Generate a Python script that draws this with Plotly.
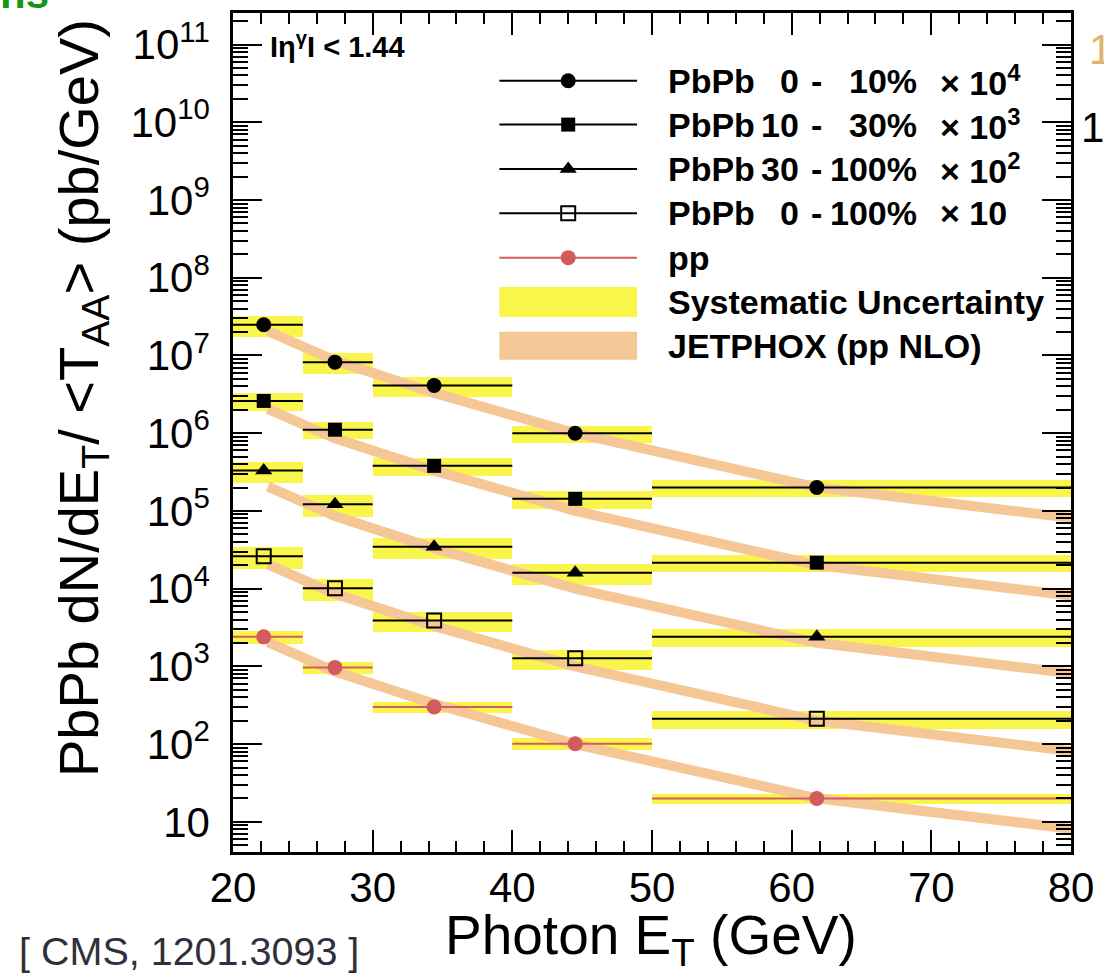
import plotly.graph_objects as go

# ---------------- data ----------------
bin_lo = [20, 25, 30, 40, 50]
bin_hi = [25, 30, 40, 50, 80]
x_mean = [22.2, 27.3, 34.4, 44.5, 61.8]

c010_vals = [2.48e7, 8.2e6, 4.1e6, 1.0e6, 2.0e5]      # PbPb 0-10% x 1e4
c1030_vals = [2.6e6, 1.11e6, 3.8e5, 1.43e5, 2.16e4]   # PbPb 10-30% x 1e3
c30100_vals = [3.3e5, 1.22e5, 3.45e4, 1.6e4, 2.4e3]   # PbPb 30-100% x 1e2
c0100_vals = [2.62e4, 1.01e4, 3.9e3, 1.27e3, 2.12e2]  # PbPb 0-100% x 10
pp_vals = [2.4e3, 9.7e2, 3.0e2, 1.01e2, 20.0]         # pp

c010_sys = [0.31, 0.30, 0.29, 0.25, 0.25]
c1030_sys = [0.26, 0.25, 0.25, 0.25, 0.245]
c30100_sys = [0.31, 0.31, 0.30, 0.30, 0.25]
c0100_sys = [0.31, 0.31, 0.30, 0.29, 0.26]
pp_sys = [0.18, 0.18, 0.17, 0.17, 0.155]

jet_x = [22.5, 27.3, 34.4, 44.5, 61.8, 80.0]
jet_pp = [2050, 860, 330, 100, 20.1, 8.15]            # JETPHOX pp NLO
scale_factors = [1e4, 1e3, 1e2, 10, 1]

x_tickvals = [20, 30, 40, 50, 60, 70, 80]
x_ticktext = ["20", "30", "40", "50", "60", "70", "80"]
y_tickvals = [1e1, 1e2, 1e3, 1e4, 1e5, 1e6, 1e7, 1e8, 1e9, 1e10, 1e11]
y_ticktext = ["10", "10<sup>2</sup>", "10<sup>3</sup>", "10<sup>4</sup>", "10<sup>5</sup>",
              "10<sup>6</sup>", "10<sup>7</sup>", "10<sup>8</sup>", "10<sup>9</sup>",
              "10<sup>10</sup>", "10<sup>11</sup>"]

# ---------------- style ----------------
FONT = "Liberation Sans, Arial, Helvetica, sans-serif"
YELLOW = "#FAF54B"
ORANGE = "#F6C796"
PPRED = "#D35B5E"

series = [
    (c010_vals, c010_sys, dict(symbol="circle", size=15, color="black"), "black"),
    (c1030_vals, c1030_sys, dict(symbol="square", size=14, color="black"), "black"),
    (c30100_vals, c30100_sys, dict(symbol="triangle-up", size=15, color="black"), "black"),
    (c0100_vals, c0100_sys, dict(symbol="square-open", size=14, color="black",
                                 line=dict(width=2, color="black")), "black"),
    (pp_vals, pp_sys, dict(symbol="circle", size=15, color=PPRED), PPRED),
]

fig = go.Figure()

centers = [(a + b) / 2 for a, b in zip(bin_lo, bin_hi)]
widths = [b - a for a, b in zip(bin_lo, bin_hi)]

# systematic boxes
for vals, sys, _, _ in series:
    lo = [v * (1 - s) for v, s in zip(vals, sys)]
    hgt = [v * 2 * s for v, s in zip(vals, sys)]
    fig.add_trace(go.Bar(x=centers, width=widths, base=lo, y=hgt,
                         marker=dict(color=YELLOW, line=dict(width=0)),
                         showlegend=False, hoverinfo="skip"))

# JETPHOX curves
for sf in scale_factors:
    fig.add_trace(go.Scatter(x=jet_x, y=[v * sf for v in jet_pp], mode="lines",
                             line=dict(color=ORANGE, width=10),
                             showlegend=False, hoverinfo="skip"))

# data points with bin-width bars
for vals, sys, mk, lc in series:
    fig.add_trace(go.Scatter(
        x=x_mean, y=vals, mode="markers", marker=mk,
        error_x=dict(type="data", symmetric=False,
                     array=[h - x for h, x in zip(bin_hi, x_mean)],
                     arrayminus=[x - l for l, x in zip(bin_lo, x_mean)],
                     thickness=2, width=0, color=lc),
        showlegend=False))

# ---------------- manual legend (pixel-space overlay axes) ----------------
leg_rows = [78, 122, 166.5, 211, 255.5]
leg_x0, leg_x1, leg_xm = 500, 638, 569
for (vals, sys, mk, lc), ry in zip(series, leg_rows):
    fig.add_trace(go.Scatter(x=[leg_x0, leg_x1], y=[ry, ry], mode="lines",
                             line=dict(color=lc, width=2), xaxis="x2", yaxis="y2",
                             showlegend=False, hoverinfo="skip"))
    fig.add_trace(go.Scatter(x=[leg_xm], y=[ry], mode="markers", marker=mk,
                             xaxis="x2", yaxis="y2", showlegend=False, hoverinfo="skip"))

shapes = [
    dict(type="rect", xref="x2", yref="y2", x0=leg_x0, x1=leg_x1, y0=285, y1=315,
         fillcolor=YELLOW, line=dict(width=0), layer="above"),
    dict(type="rect", xref="x2", yref="y2", x0=leg_x0, x1=leg_x1, y0=330, y1=358,
         fillcolor=ORANGE, line=dict(width=0), layer="above"),
]

W, H = 1104, 978
ML, MR, MT, MB = 233, 31, 10, 126
PW, PH = W - ML - MR, H - MT - MB


def px(xp):
    return (xp - ML) / PW


def py(yp):
    return (H - MB - yp) / PH


ann = []
LF = 34


def lab(text, x, y, anchor="left", size=LF, bold=True, color="black"):
    ann.append(dict(text=("<b>%s</b>" % text) if bold else text, x=px(x), y=py(y),
                    xref="paper", yref="paper", xanchor=anchor, yanchor="middle",
                    showarrow=False, font=dict(family=FONT, size=size, color=color)))


leg_num = ["0", "10", "30", "0"]
leg_pct = ["10%", "30%", "100%", "100%"]
leg_fac = ["× 10<sup>4</sup>", "× 10<sup>3</sup>", "× 10<sup>2</sup>", "× 10"]
for i in range(4):
    ry = leg_rows[i]
    lab("PbPb", 667, ry)
    lab(leg_num[i], 802, ry, "right")
    lab("-", 818, ry, "center")
    lab(leg_pct[i], 921, ry, "right")
    lab(leg_fac[i], 940, ry)
lab("pp", 667, leg_rows[4])
lab("Systematic Uncertainty", 667, 300)
lab("JETPHOX (pp NLO)", 667, 344)

# eta label
lab("Iη<sup>γ</sup>I < 1.44", 268, 42, size=29)

# axis titles
ann.append(dict(text="Photon E<sub>T</sub> (GeV)", x=px(652), y=py(939), xref="paper",
                yref="paper", xanchor="center", yanchor="middle", showarrow=False,
                font=dict(family=FONT, size=55, color="black")))
ann.append(dict(text="PbPb dN/dE<sub>T</sub>/ <T<sub>AA</sub>> (pb/GeV)", x=px(82),
                y=py(396), xref="paper", yref="paper", xanchor="center", yanchor="middle",
                textangle=-90, showarrow=False,
                font=dict(family=FONT, size=56, color="black")))

# citation and cut-off slide fragments
lab("[ CMS, 1201.3093 ]", 16, 951, size=39.5, bold=False, color="#30303a")
ann.append(dict(text="<b>ns</b>", x=px(-3), y=py(16), xref="paper", yref="paper",
                xanchor="left", yanchor="bottom", showarrow=False,
                font=dict(family=FONT, size=42, color="#169616")))
lab("1", 1081, 125, size=42, bold=False)
lab("1", 1089, 47, size=42, bold=False, color="#E2B466")

minor_y = [m * 10 ** k for k in range(0, 12) for m in range(2, 10)]

fig.update_layout(
    width=W, height=H, autosize=False,
    margin=dict(l=ML, r=MR, t=MT, b=MB, pad=0),
    paper_bgcolor="white", plot_bgcolor="white",
    barmode="overlay", bargap=0,
    showlegend=False,
    shapes=shapes, annotations=ann,
    font=dict(family=FONT, color="black"),
    xaxis=dict(range=[20, 80], showgrid=False, zeroline=False,
               showline=True, linecolor="black", linewidth=2.5, mirror="allticks",
               ticks="inside", ticklen=22, tickwidth=2, tickcolor="black",
               tickmode="array", tickvals=x_tickvals, ticktext=x_ticktext,
               tickfont=dict(family=FONT, size=42, color="black"),
               ticklabelstandoff=-3,
               minor=dict(ticks="inside", ticklen=11, tickwidth=2, tickcolor="black",
                          dtick=2, tick0=20, showgrid=False)),
    yaxis=dict(type="log", range=[0.612, 11.406], showgrid=False, zeroline=False,
               showline=True, linecolor="black", linewidth=2.5, mirror="allticks",
               ticks="inside", ticklen=29, tickwidth=2, tickcolor="black",
               tickmode="array", tickvals=y_tickvals, ticktext=y_ticktext,
               tickfont=dict(family=FONT, size=42, color="black"),
               ticklabelstandoff=12,
               minor=dict(ticks="inside", ticklen=15, tickwidth=2, tickcolor="black",
                          tickmode="array", tickvals=minor_y, showgrid=False)),
    xaxis2=dict(overlaying="x", range=[ML, W - MR], visible=False, fixedrange=True),
    yaxis2=dict(overlaying="y", range=[H - MB, MT], visible=False, fixedrange=True),
)

fig.write_html("out.html")
